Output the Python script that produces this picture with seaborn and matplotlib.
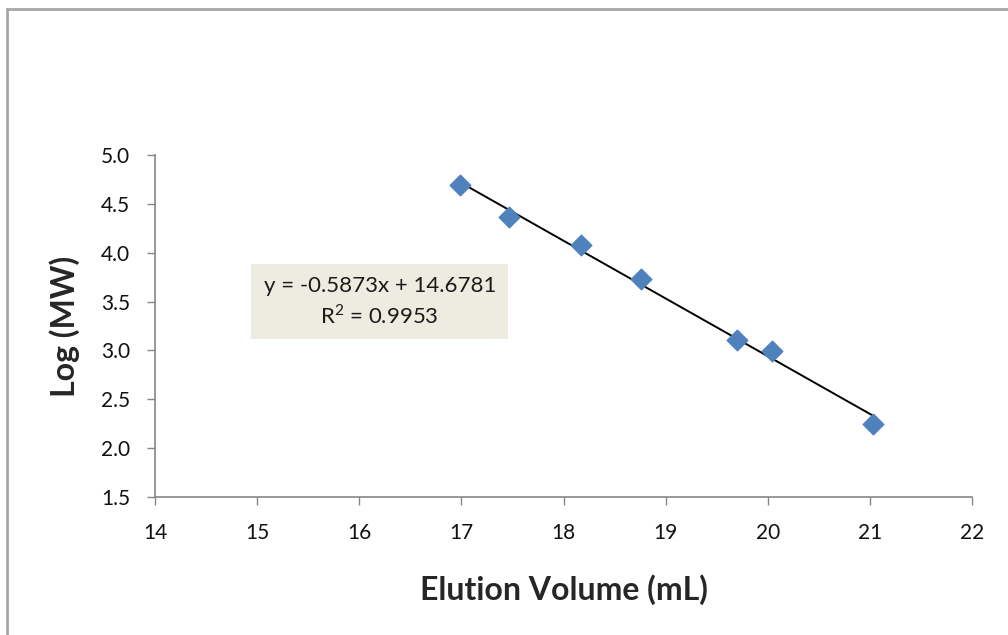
import numpy as np
import pandas as pd
import matplotlib
matplotlib.use("Agg")
import matplotlib.pyplot as plt
import seaborn as sns
from matplotlib.patches import Rectangle

elution_volume = [16.99, 17.47, 18.17, 18.76, 19.70, 20.04, 21.03]
log_mw = [4.69, 4.37, 4.08, 3.73, 3.11, 2.99, 2.25]
equation_text = "y = -0.5873x + 14.6781\nR$^2$ = 0.9953"

data = pd.DataFrame({"volume": elution_volume, "logmw": log_mw})

sns.set_style("white")
plt.rcParams["font.family"] = ["Lato", "DejaVu Sans"]
plt.rcParams["mathtext.fontset"] = "custom"
plt.rcParams["mathtext.rm"] = "Lato"

fig = plt.figure(figsize=(10.08, 6.35), dpi=100)
ax = fig.add_axes([0.1538, 0.2173, 0.8105, 0.5386])

sns.regplot(
    data=data,
    x="volume",
    y="logmw",
    ci=None,
    ax=ax,
    marker="D",
    scatter_kws={"color": "#4F81BD", "s": 110, "edgecolor": "#4F81BD", "alpha": 1, "zorder": 3},
    line_kws={"color": "black", "linewidth": 1.4, "zorder": 2},
)

ax.set_xlim(14, 22)
ax.set_ylim(1.5, 5.0)
ax.set_xticks(range(14, 23))
ax.set_yticks(np.arange(1.5, 5.01, 0.5))
ax.set_yticklabels([f"{v:.1f}" for v in np.arange(1.5, 5.01, 0.5)])
ax.tick_params(axis="both", labelsize=15, colors="#868686", labelcolor="#111111",
               length=6, width=1, direction="out", left=True, bottom=True)
ax.tick_params(axis="x", pad=13)
ax.tick_params(axis="y", pad=12)
for s in ["left", "bottom"]:
    ax.spines[s].set_color("#868686")
    ax.spines[s].set_linewidth(1.2)
for s in ["top", "right"]:
    ax.spines[s].set_visible(False)

ax.set_xlabel("Elution Volume (mL)", fontsize=23, fontweight="bold", labelpad=22)
ax.set_ylabel("Log (MW)", fontsize=23, fontweight="bold", labelpad=15)

ax.text(16.2, 3.50, equation_text, fontsize=16, ha="center", va="center",
        linespacing=1.35, color="#1a1a1a",
        bbox=dict(boxstyle="square,pad=0.55", facecolor="#EEECE1", edgecolor="none"))

fig.patches.append(Rectangle((0.007, -0.05), 1.1, 1.0358, transform=fig.transFigure,
                             fill=False, edgecolor="#A6A6A6", linewidth=2))

fig.savefig("out.png", dpi=100)
